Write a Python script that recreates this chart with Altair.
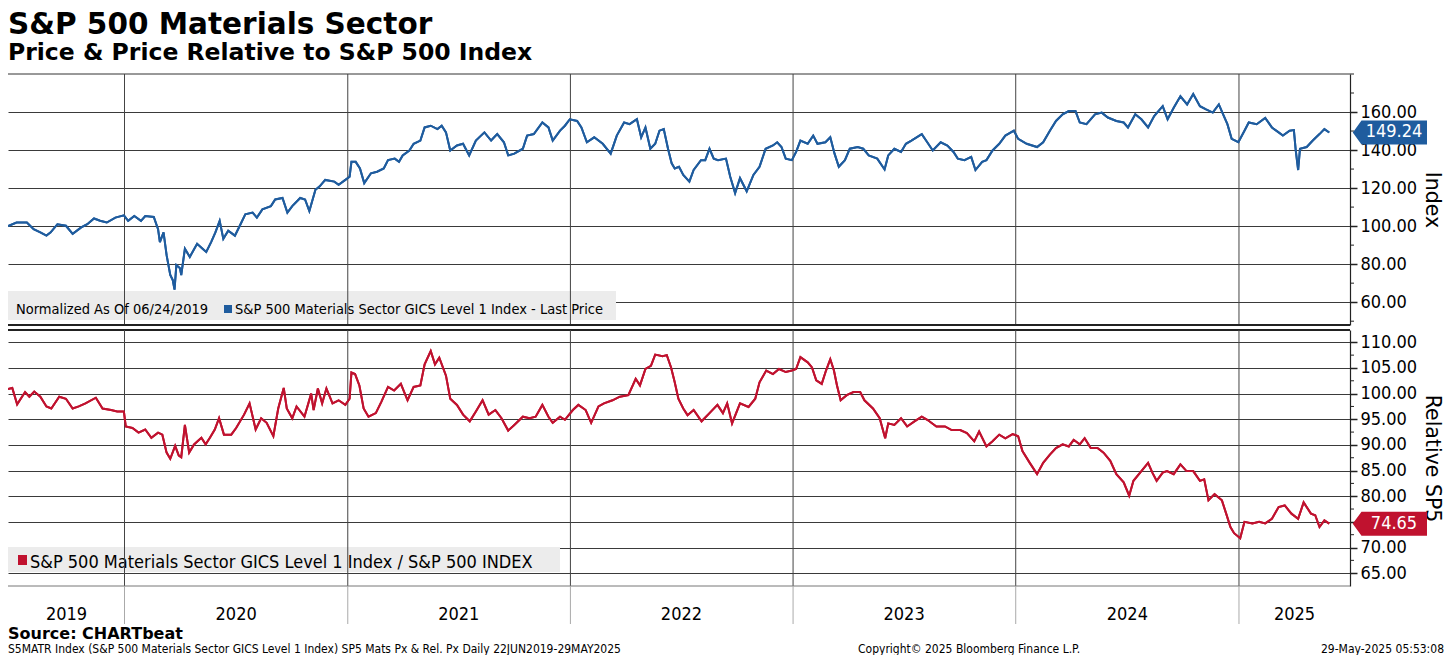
import altair as alt
import pandas as pd

FONT = "DejaVu Sans Condensed, Tahoma, DejaVu Sans, sans-serif"
TFONT = "DejaVu Sans, Verdana, sans-serif"
NARROW = "Liberation Sans Narrow, DejaVu Sans Condensed, sans-serif"
BLUE = "#1f5c9e"
RED = "#c0122f"
GRID = "#3a3a3a"

W = 1342
H1 = 251
H2 = 256

# ---------------- data ----------------
price_dates = [
    "2019-06-24", "2019-07-08", "2019-07-25", "2019-08-05", "2019-08-16", "2019-08-26", "2019-09-02",
    "2019-09-13", "2019-09-27", "2019-10-08", "2019-10-22", "2019-11-01", "2019-11-12", "2019-11-22",
    "2019-12-03", "2019-12-17", "2019-12-31", "2020-01-07", "2020-01-17", "2020-01-28", "2020-02-04",
    "2020-02-18", "2020-02-25", "2020-02-28", "2020-03-05", "2020-03-10", "2020-03-16", "2020-03-20",
    "2020-03-23", "2020-03-26", "2020-04-01", "2020-04-03", "2020-04-09", "2020-04-17", "2020-04-29",
    "2020-05-08", "2020-05-14", "2020-05-22", "2020-05-29", "2020-06-05", "2020-06-11", "2020-06-19",
    "2020-06-30", "2020-07-08", "2020-07-17", "2020-07-29", "2020-08-05", "2020-08-14", "2020-08-28",
    "2020-09-04", "2020-09-16", "2020-09-24", "2020-10-02", "2020-10-15", "2020-10-23", "2020-10-30",
    "2020-11-09", "2020-11-16", "2020-11-25", "2020-12-10", "2020-12-17", "2020-12-28", "2021-01-04",
    "2021-01-07", "2021-01-14", "2021-01-21", "2021-01-28", "2021-02-08", "2021-02-18", "2021-03-01",
    "2021-03-08", "2021-03-19", "2021-03-26", "2021-04-01", "2021-04-12", "2021-04-19", "2021-04-30",
    "2021-05-07", "2021-05-17", "2021-05-28", "2021-06-04", "2021-06-11", "2021-06-18", "2021-06-29",
    "2021-07-09", "2021-07-19", "2021-07-30", "2021-08-13", "2021-08-24", "2021-09-03", "2021-09-14",
    "2021-09-21", "2021-10-01", "2021-10-15", "2021-10-22", "2021-11-02", "2021-11-16", "2021-11-26",
    "2021-12-03", "2021-12-15", "2021-12-23", "2021-12-31", "2022-01-12", "2022-01-19", "2022-01-28",
    "2022-02-09", "2022-02-23", "2022-03-08", "2022-03-18", "2022-03-30", "2022-04-08", "2022-04-20",
    "2022-04-27", "2022-05-04", "2022-05-12", "2022-05-20", "2022-05-27", "2022-06-03", "2022-06-10",
    "2022-06-16", "2022-06-21", "2022-06-28", "2022-07-05", "2022-07-15", "2022-07-22", "2022-08-03",
    "2022-08-10", "2022-08-17", "2022-08-24", "2022-08-31", "2022-09-13", "2022-09-20", "2022-09-28",
    "2022-10-06", "2022-10-17", "2022-10-28", "2022-11-07", "2022-11-17", "2022-11-29", "2022-12-06",
    "2022-12-13", "2022-12-20", "2022-12-30", "2023-01-06", "2023-01-13", "2023-01-25", "2023-02-03",
    "2023-02-10", "2023-02-23", "2023-03-03", "2023-03-10", "2023-03-17", "2023-03-27", "2023-04-04",
    "2023-04-17", "2023-04-26", "2023-05-05", "2023-05-19", "2023-05-31", "2023-06-06", "2023-06-16",
    "2023-06-27", "2023-07-05", "2023-07-14", "2023-07-31", "2023-08-09", "2023-08-18", "2023-08-31",
    "2023-09-11", "2023-09-21", "2023-09-28", "2023-10-09", "2023-10-20", "2023-10-27", "2023-11-07",
    "2023-11-14", "2023-11-24", "2023-12-05", "2023-12-15", "2023-12-29", "2024-01-05", "2024-01-19",
    "2024-02-05", "2024-02-15", "2024-02-26", "2024-03-07", "2024-03-18", "2024-03-28", "2024-04-08",
    "2024-04-15", "2024-04-26", "2024-05-10", "2024-05-21", "2024-05-31", "2024-06-14", "2024-06-26",
    "2024-07-03", "2024-07-15", "2024-07-25", "2024-08-05", "2024-08-15", "2024-08-29", "2024-09-06",
    "2024-09-16", "2024-09-27", "2024-10-08", "2024-10-18", "2024-10-29", "2024-11-08", "2024-11-19",
    "2024-11-29", "2024-12-06", "2024-12-13", "2024-12-20", "2024-12-31", "2025-01-10", "2025-01-17",
    "2025-01-30", "2025-02-13", "2025-02-24", "2025-03-07", "2025-03-14", "2025-03-25", "2025-04-01",
    "2025-04-04", "2025-04-08", "2025-04-11", "2025-04-22", "2025-05-02", "2025-05-13", "2025-05-21",
    "2025-05-29",
]
price_values = [
    100.0, 101.9, 101.9, 98.4, 96.7, 95.0, 96.7,
    101.0, 100.2, 95.9, 99.3, 101.0, 104.0, 102.8,
    101.9, 104.5, 105.7, 102.8, 105.3, 102.8, 105.3,
    104.8, 98.4, 91.6, 96.7, 84.7, 74.3, 71.7,
    66.6, 79.5, 77.8, 74.3, 88.1, 83.8, 90.7,
    88.1, 86.4, 91.6, 96.7, 102.8, 93.3, 97.6,
    95.0, 100.2, 106.2, 107.1, 104.5, 108.8, 110.5,
    114.0, 114.8, 107.1, 110.5, 114.8, 114.0, 107.9,
    119.1, 120.9, 124.3, 123.4, 121.7, 124.3, 126.0,
    133.8, 133.8, 130.3, 122.6, 127.8, 128.6, 130.3,
    134.7, 135.5, 133.8, 137.2, 139.8, 143.3, 145.0,
    151.9, 152.8, 151.0, 152.8, 149.3, 139.8, 142.4,
    143.3, 137.2, 145.0, 149.3, 145.0, 148.4, 144.1,
    137.2, 138.1, 140.7, 147.6, 148.4, 154.5, 151.9,
    145.0, 150.2, 152.8, 156.2, 155.3, 151.9, 144.1,
    146.7, 143.3, 138.1, 147.6, 154.5, 153.6, 156.2,
    146.7, 151.9, 140.7, 143.3, 150.2, 151.0, 140.7,
    133.0, 130.3, 131.2, 126.9, 123.4, 129.5, 134.7,
    134.7, 140.7, 135.5, 134.7, 135.5, 126.0, 117.4,
    125.2, 118.3, 126.9, 131.2, 140.7, 142.4, 144.1,
    141.6, 135.5, 134.7, 139.0, 145.0, 143.3, 147.6,
    143.3, 144.1, 146.7, 138.1, 131.2, 134.7, 140.7,
    141.6, 140.7, 137.2, 135.5, 129.8, 137.2, 140.7,
    139.0, 143.3, 145.0, 148.4, 144.1, 139.8, 144.1,
    142.4, 139.0, 135.5, 134.7, 136.4, 129.5, 133.8,
    134.7, 139.8, 143.3, 147.6, 150.2, 145.9, 143.3,
    141.6, 144.1, 150.2, 155.3, 158.8, 160.5, 160.5,
    154.5, 153.6, 158.8, 159.7, 157.1, 155.3, 154.5,
    151.9, 158.8, 156.2, 151.9, 157.9, 163.1, 156.2,
    162.2, 168.3, 164.0, 169.5, 163.1, 161.4, 159.7,
    164.0, 158.8, 153.6, 145.9, 144.1, 150.2, 154.5,
    153.6, 156.9, 151.9, 149.3, 147.6, 150.2, 150.5,
    140.0, 129.5, 140.7, 141.6, 145.0, 148.4, 151.0,
    149.24,
]

rel_dates = [
    "2019-06-24", "2019-07-01", "2019-07-09", "2019-07-22", "2019-07-29", "2019-08-06", "2019-08-16",
    "2019-08-26", "2019-09-03", "2019-09-16", "2019-09-27", "2019-10-08", "2019-10-18", "2019-10-29",
    "2019-11-15", "2019-11-26", "2019-12-10", "2019-12-20", "2019-12-31", "2020-01-03", "2020-01-14",
    "2020-01-24", "2020-02-04", "2020-02-14", "2020-02-25", "2020-03-03", "2020-03-10", "2020-03-16",
    "2020-03-24", "2020-03-30", "2020-04-03", "2020-04-09", "2020-04-16", "2020-04-24", "2020-05-06",
    "2020-05-13", "2020-05-20", "2020-05-28", "2020-06-04", "2020-06-12", "2020-06-24", "2020-07-02",
    "2020-07-15", "2020-07-24", "2020-08-03", "2020-08-12", "2020-08-21", "2020-09-01", "2020-09-09",
    "2020-09-18", "2020-09-23", "2020-10-02", "2020-10-09", "2020-10-22", "2020-11-02", "2020-11-06",
    "2020-11-13", "2020-11-20", "2020-11-27", "2020-12-07", "2020-12-17", "2020-12-28", "2021-01-04",
    "2021-01-07", "2021-01-13", "2021-01-20", "2021-01-27", "2021-02-04", "2021-02-16", "2021-02-25",
    "2021-03-08", "2021-03-18", "2021-03-29", "2021-04-09", "2021-04-19", "2021-04-30", "2021-05-07",
    "2021-05-17", "2021-05-24", "2021-05-31", "2021-06-11", "2021-06-18", "2021-06-29", "2021-07-09",
    "2021-07-20", "2021-07-30", "2021-08-10", "2021-08-20", "2021-08-31", "2021-09-10", "2021-09-21",
    "2021-10-01", "2021-10-15", "2021-10-26", "2021-11-05", "2021-11-16", "2021-11-26", "2021-12-03",
    "2021-12-15", "2021-12-23", "2022-01-05", "2022-01-14", "2022-01-26", "2022-02-04", "2022-02-16",
    "2022-02-25", "2022-03-11", "2022-03-23", "2022-04-06", "2022-04-18", "2022-04-25", "2022-05-04",
    "2022-05-13", "2022-05-20", "2022-06-01", "2022-06-08", "2022-06-15", "2022-06-21", "2022-06-27",
    "2022-07-05", "2022-07-12", "2022-07-22", "2022-08-04", "2022-08-17", "2022-08-30", "2022-09-08",
    "2022-09-15", "2022-09-23", "2022-10-06", "2022-10-20", "2022-10-31", "2022-11-07", "2022-11-18",
    "2022-11-29", "2022-12-09", "2022-12-20", "2022-12-30", "2023-01-06", "2023-01-13", "2023-01-25",
    "2023-02-01", "2023-02-08", "2023-02-17", "2023-02-24", "2023-03-03", "2023-03-09", "2023-03-14",
    "2023-03-20", "2023-03-30", "2023-04-10", "2023-04-21", "2023-04-28", "2023-05-12", "2023-05-23",
    "2023-06-01", "2023-06-06", "2023-06-16", "2023-06-27", "2023-07-07", "2023-07-19", "2023-07-31",
    "2023-08-09", "2023-08-24", "2023-09-07", "2023-09-18", "2023-10-02", "2023-10-13", "2023-10-25",
    "2023-11-02", "2023-11-14", "2023-11-24", "2023-12-05", "2023-12-15", "2023-12-27", "2024-01-05",
    "2024-01-12", "2024-01-24", "2024-02-05", "2024-02-15", "2024-02-26", "2024-03-07", "2024-03-18",
    "2024-03-28", "2024-04-05", "2024-04-15", "2024-04-23", "2024-05-03", "2024-05-14", "2024-05-24",
    "2024-06-04", "2024-06-14", "2024-06-26", "2024-07-05", "2024-07-12", "2024-07-25", "2024-08-05",
    "2024-08-12", "2024-08-19", "2024-08-29", "2024-09-05", "2024-09-16", "2024-09-27", "2024-10-07",
    "2024-10-18", "2024-10-29", "2024-11-05", "2024-11-12", "2024-11-22", "2024-12-04", "2024-12-11",
    "2024-12-18", "2024-12-24", "2025-01-03", "2025-01-10", "2025-01-23", "2025-02-03", "2025-02-13",
    "2025-02-24", "2025-03-07", "2025-03-17", "2025-03-28", "2025-04-08", "2025-04-17", "2025-04-29",
    "2025-05-06", "2025-05-13", "2025-05-21", "2025-05-29",
]
rel_values = [
    100.9, 101.1, 97.9, 100.3, 99.4, 100.4, 99.4,
    97.5, 97.1, 99.4, 99.0, 97.1, 97.5, 98.1,
    99.2, 97.1, 96.8, 96.5, 96.5, 93.6, 93.3,
    92.4, 93.0, 91.4, 92.4, 92.0, 88.5, 87.3,
    89.8, 87.9, 87.6, 93.9, 88.5, 90.1, 91.4,
    90.1, 91.4, 93.0, 95.2, 92.0, 92.0, 93.3,
    95.9, 98.1, 93.0, 95.2, 94.3, 91.7, 97.1,
    101.1, 97.1, 95.2, 97.5, 95.5, 100.0, 96.8,
    101.0, 98.1, 101.0, 98.1, 98.7, 97.8, 99.0,
    104.1, 103.8, 101.6, 97.1, 95.5, 96.2, 98.4,
    101.3, 100.6, 101.9, 98.7, 101.3, 101.6, 105.7,
    108.3, 105.7, 107.0, 103.5, 99.0, 97.8, 95.9,
    94.6, 96.5, 98.7, 95.9, 96.8, 95.2, 92.8,
    93.9, 95.5, 95.2, 95.5, 97.8, 95.5, 94.3,
    95.5, 94.9, 96.8, 97.8, 96.8, 94.3, 97.5,
    98.1, 98.7, 99.4, 99.7, 102.9, 101.6, 104.8,
    105.4, 107.6, 107.3, 107.5, 105.1, 102.2, 99.0,
    97.1, 95.8, 96.8, 94.6, 96.2, 97.8, 96.2,
    98.1, 94.2, 98.1, 97.4, 99.0, 102.2, 104.5,
    103.8, 104.8, 104.2, 104.5, 104.8, 107.1, 106.1,
    105.1, 102.6, 101.9, 104.5, 106.7, 104.5, 101.6,
    98.7, 99.7, 100.3, 100.3, 98.7, 97.1, 95.2,
    91.3, 94.2, 93.9, 95.2, 93.6, 94.6, 95.5,
    94.9, 93.6, 93.6, 92.9, 92.9, 92.3, 90.7,
    92.6, 89.7, 90.7, 92.0, 91.3, 92.1, 91.7,
    88.8, 86.5, 84.3, 86.5, 88.1, 89.4, 90.1,
    89.7, 91.0, 90.1, 91.3, 89.4, 89.4, 88.5,
    86.9, 84.3, 82.7, 80.1, 83.0, 84.9, 86.5,
    84.6, 83.0, 84.6, 84.9, 84.3, 86.2, 84.9,
    84.9, 83.0, 83.3, 79.2, 80.4, 79.2, 76.6,
    74.0, 72.8, 71.8, 75.0, 74.7, 75.0, 74.7,
    75.6, 77.9, 78.2, 76.6, 75.6, 78.8, 76.6,
    76.3, 74.0, 75.3, 74.65,
]

top_ticks = [60, 80, 100, 120, 140, 160]
top_minor_ticks = [50, 70, 90, 110, 130, 150, 170, 180]
bottom_ticks = [65, 70, 75, 80, 85, 90, 95, 100, 105, 110]
bottom_minor_ticks = [67.5, 72.5, 77.5, 82.5, 87.5, 92.5, 97.5, 102.5, 107.5]
bottom_hidden_label = 75
top_domain = [48, 180]
bottom_domain = [62.5, 112.4]

year_starts = ["2020-01-01", "2021-01-01", "2022-01-01", "2023-01-01", "2024-01-01", "2025-01-01"]
year_labels = ["2019", "2020", "2021", "2022", "2023", "2024", "2025"]
year_label_dates = ["2019-09-28", "2020-07-02", "2021-07-02", "2022-07-02", "2023-07-02", "2024-07-02", "2025-04-02"]

title_text = "S&P 500 Materials Sector"
subtitle_text = "Price & Price Relative to S&P 500 Index"
top_legend_note = "Normalized As Of 06/24/2019"
top_legend_label = "S&P 500 Materials Sector GICS Level 1 Index - Last Price"
bottom_legend_label = "S&P 500 Materials Sector GICS Level 1 Index / S&P 500 INDEX"
source_text = "Source: CHARTbeat"
footer_left = "S5MATR Index (S&P 500 Materials Sector GICS Level 1 Index) SP5 Mats Px & Rel. Px  Daily 22JUN2019-29MAY2025"
footer_mid = "Copyright\u00a9 2025 Bloomberg Finance L.P."
footer_right = "29-May-2025 05:53:08"

# ---------------- frames ----------------
price_df = pd.DataFrame({"date": price_dates, "value": price_values})
rel_df = pd.DataFrame({"date": rel_dates, "value": rel_values})
years_df = pd.DataFrame({"date": year_starts})
year_lab_df = pd.DataFrame({"date": year_label_dates, "label": year_labels})
one = pd.DataFrame({"k": [0]})

xscale = alt.Scale(domain=[alt.DateTime(year=2019, month=6, date=24, utc=True),
                           alt.DateTime(year=2025, month=7, date=2, utc=True)])
X = alt.X("date:T", scale=xscale, axis=None)


def txt(text, x, y, size, weight="normal", align="left", font=FONT, color="#000", baseline="alphabetic"):
    return alt.Chart(pd.DataFrame({"t": [text]})).mark_text(
        align=align, baseline=baseline, font=font, fontSize=size, fontWeight=weight, color=color
    ).encode(x=alt.value(x), y=alt.value(y), text="t:N")


def box(x1, x2, y1, y2, color):
    return alt.Chart(one).mark_rect(color=color).encode(
        x=alt.value(x1), x2=alt.value(x2), y=alt.value(y1), y2=alt.value(y2))


def hrule(y, color, width):
    return alt.Chart(one).mark_rule(color=color, strokeWidth=width).encode(
        x=alt.value(0), x2=alt.value(W), y=alt.value(y))


def yaxis(values, title, hidden=None):
    expr = "datum.label" if hidden is None else f"datum.value == {hidden} ? '' : datum.label"
    return alt.Axis(orient="right", values=values, format=".2f", labelExpr=expr, grid=True,
                    gridColor=GRID, gridWidth=1,
                    domain=True, domainColor="#222", domainWidth=1.2, ticks=True, tickColor="#222",
                    tickSize=7, tickWidth=1.5, labelFont=FONT, labelFontSize=18, labelColor="#000",
                    labelPadding=3, labelOverlap=False, title=title, titleFont=TFONT, titleFontSize=20.5,
                    titleFontWeight="normal", titleColor="#000", titleAngle=90, titlePadding=5, zindex=0)


BADGE = "M-1,0L-0.778,-0.306L1,-0.306L1,0.306L-0.778,0.306Z"


def panel(df, color, dom, ticks, minor, title, H, hidden=None):
    ys = alt.Scale(domain=dom, zero=False, nice=False)
    ax = yaxis(ticks, title, hidden)
    vrules = alt.Chart(years_df).mark_rule(color="#444", strokeWidth=1).encode(
        x=X, y=alt.value(0), y2=alt.value(H))
    minor_df = pd.DataFrame({"v": minor})
    mticks = alt.Chart(minor_df).mark_rule(color="#222", strokeWidth=1).encode(
        y=alt.Y("v:Q", scale=ys, axis=ax), x=alt.value(W), x2=alt.value(W + 4))
    line = alt.Chart(df).mark_line(color=color, strokeWidth=2).encode(
        x=X, y=alt.Y("value:Q", scale=ys, axis=ax))
    last = pd.DataFrame({"v": [df["value"].iloc[-1]]})
    badge = alt.Chart(last).mark_point(shape=BADGE, size=72 * 72, filled=True, fill=color, opacity=1,
                                       stroke=color).encode(
        y=alt.Y("v:Q", scale=ys, axis=ax), x=alt.value(W + 4 + 36))
    badge_t = alt.Chart(last).mark_text(font=FONT, fontSize=18, color="white", align="center",
                                        baseline="middle").encode(
        y=alt.Y("v:Q", scale=ys, axis=ax), x=alt.value(W + 4 + 40), text=alt.Text("v:Q", format=".2f"))
    return vrules, mticks, line, badge, badge_t


t_vr, t_mt, t_line, t_badge, t_bt = panel(price_df, BLUE, top_domain, top_ticks, top_minor_ticks, "Index", H1)
top = alt.layer(
    t_line,
    hrule(0, "#333", 1),
    box(0, 608, H1 - 34, H1 - 5, "#ececec"),
    txt(top_legend_note, 8, H1 - 11, 14.5),
    box(216, 224, H1 - 20, H1 - 12, BLUE),
    txt(top_legend_label, 227, H1 - 11, 14.5),
    t_vr, t_mt, t_line, t_badge, t_bt,
    hrule(H1, "#222", 2),
    txt(title_text, 0, -40, 29.5, weight="bold", font=TFONT),
    txt(subtitle_text, 0, -14, 23.5, weight="bold", font=TFONT),
).properties(width=W, height=H1)

b_vr, b_mt, b_line, b_badge, b_bt = panel(rel_df, RED, bottom_domain, bottom_ticks, bottom_minor_ticks,
                                          "Relative SP5", H2, hidden=bottom_hidden_label)
seps = alt.Chart(years_df).mark_rule(color="#aaa", strokeWidth=1).encode(
    x=X, y=alt.value(H2), y2=alt.value(H2 + 38))
ylabels = alt.Chart(year_lab_df).mark_text(font=FONT, fontSize=18, color="#000", align="center",
                                           baseline="alphabetic").encode(
    x=X, y=alt.value(H2 + 34), text="label:N")
bottom = alt.layer(
    b_line,
    hrule(0, "#222", 2),
    box(0, 552, H2 - 39, H2 - 14, "#ececec"),
    box(10, 19, H2 - 31, H2 - 21, RED),
    txt(bottom_legend_label, 22, H2 - 18, 18),
    b_vr, b_mt, b_line, b_badge, b_bt,
    hrule(H2, "#777", 1),
    seps, ylabels,
    txt(source_text, 0, H2 + 53, 16, weight="bold", font=TFONT),
    txt(footer_left, 0, H2 + 67, 12, font=NARROW),
    txt(footer_mid, 850, H2 + 67, 12, font=NARROW),
    txt(footer_right, 1436, H2 + 67, 12, font=NARROW, align="right"),
).properties(width=W, height=H2)

chart = alt.vconcat(top, bottom, spacing=3).configure_view(stroke=None).properties(
    padding={"left": -4, "right": 0, "top": 2, "bottom": 0}, background="white")

chart.save("out.html", embed_options={"renderer": "svg", "actions": False})
